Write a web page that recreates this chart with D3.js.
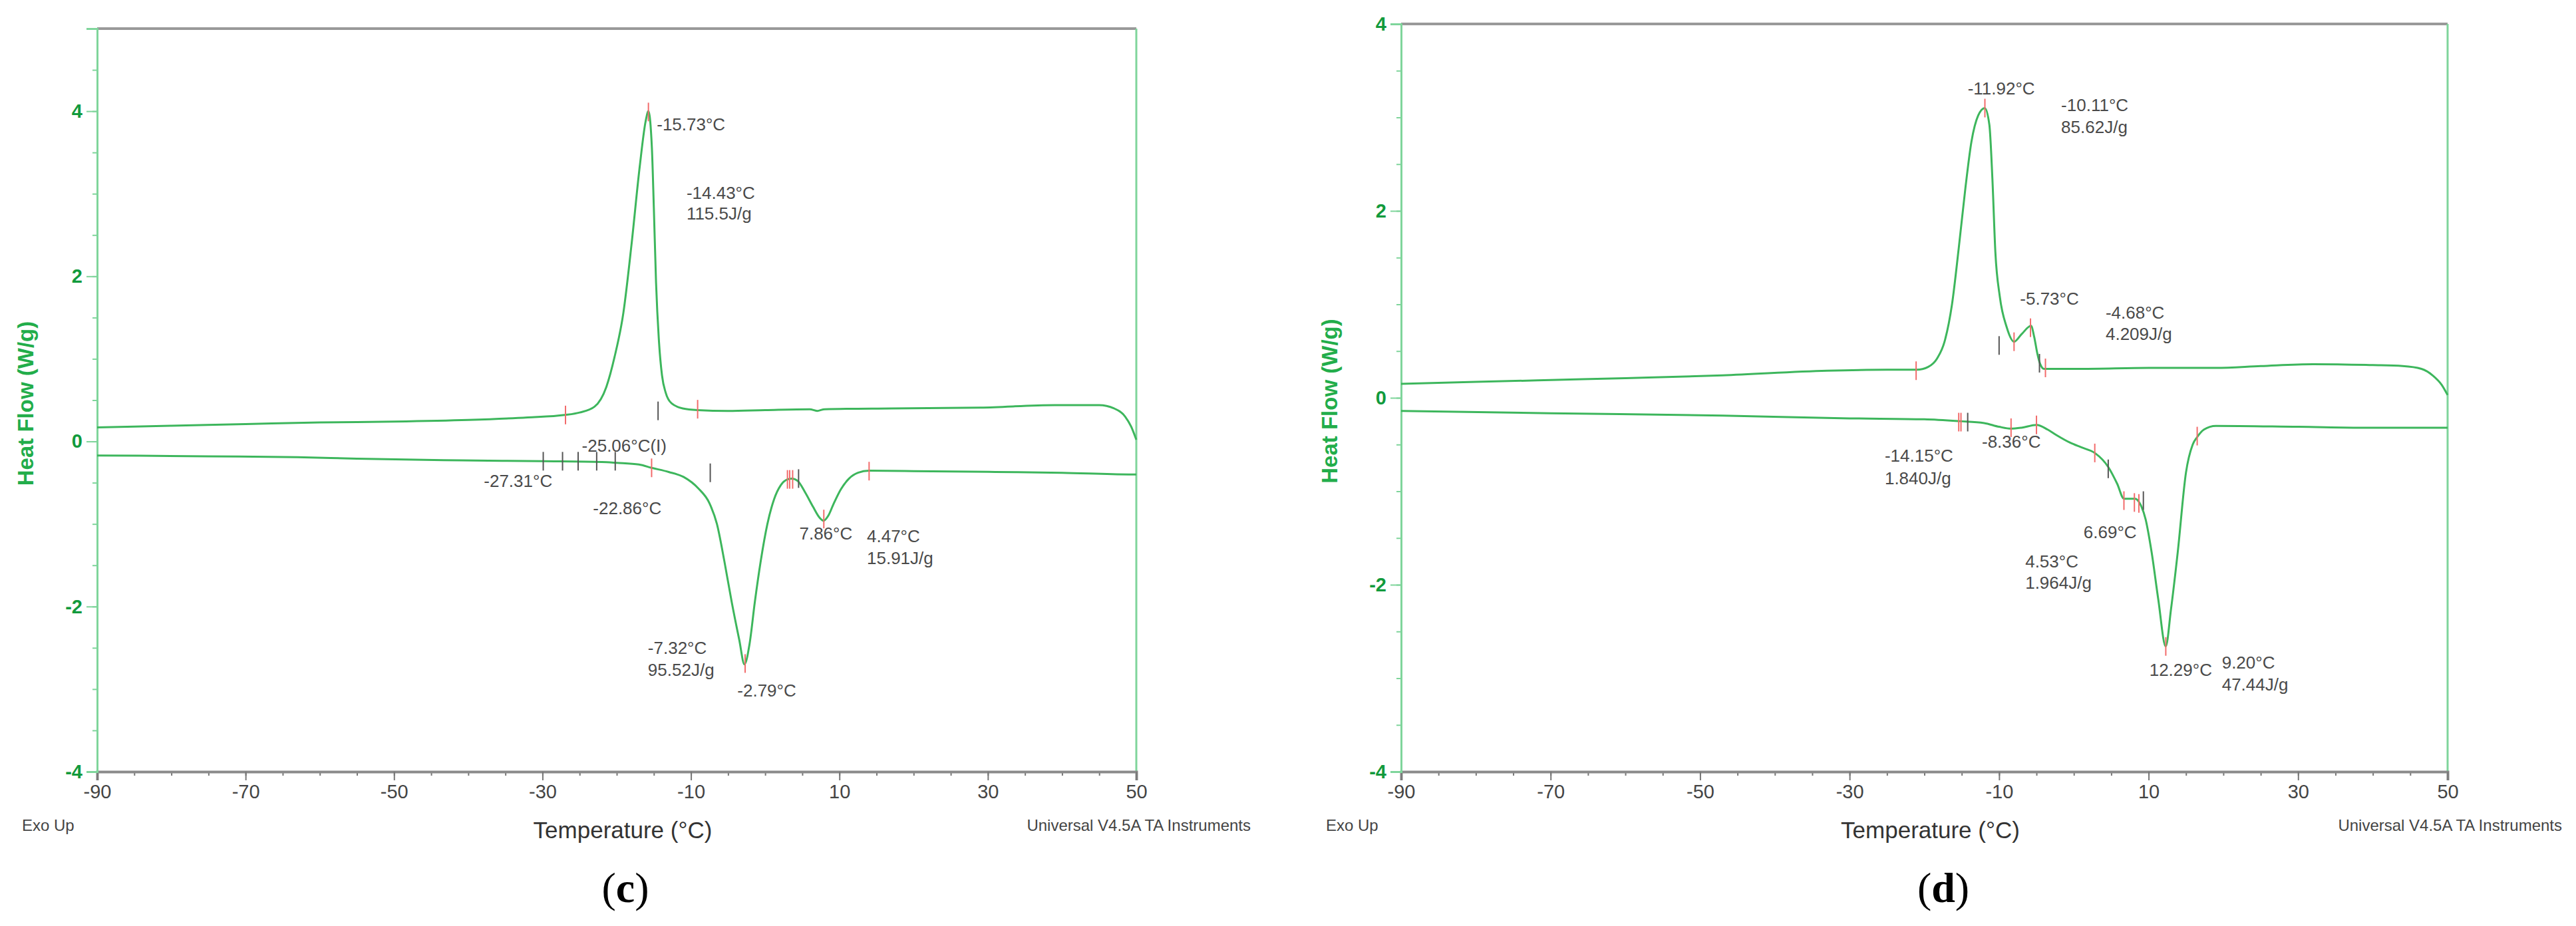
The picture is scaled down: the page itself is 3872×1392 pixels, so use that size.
<!DOCTYPE html>
<html>
<head>
<meta charset="utf-8">
<script src="https://cdn.jsdelivr.net/npm/d3@7"></script>
<style>
  body { margin: 0; background: #fff; }
  svg { display: block; font-family: "Liberation Sans", Arial, sans-serif; }
</style>
</head>
<body>
<div id="chart"></div>
<script>
// ---- data ----
// panel (c): cooling trace (upper) and heating trace (lower), [temperature °C, heat flow W/g]
const cCooling = [[-90,0.17],[-80,0.19],[-70,0.21],[-60,0.23],[-50,0.24],[-40,0.26],[-32,0.29],[-27,0.32],[-25,0.35],
  [-23,0.42],[-21.4,0.66],[-20.3,1.02],[-19.1,1.56],[-18,2.39],[-16.9,3.33],[-16.1,3.88],[-15.73,4.0],[-15.26,3.55],
  [-15,2.83],[-14.7,1.92],[-14.3,1.2],[-13.9,0.8],[-13.4,0.59],[-12.6,0.46],[-11.1,0.4],[-9.1,0.38],[-5,0.37],[0,0.38],
  [6,0.39],[7,0.37],[8,0.39],[17,0.4],[29,0.41],[39,0.44],[45,0.44],[47,0.4],[48.5,0.3],[49.3,0.18],[50,0.02]];
const cHeating = [[-90,-0.17],[-75,-0.18],[-63,-0.19],[-55,-0.21],[-41,-0.23],[-30,-0.24],[-22,-0.25],[-20,-0.26],
  [-17,-0.28],[-15.3,-0.32],[-13,-0.37],[-11,-0.43],[-9,-0.57],[-7.5,-0.75],[-6.5,-1.0],[-5.5,-1.45],[-4.5,-1.95],
  [-3.5,-2.4],[-2.79,-2.7],[-2.1,-2.45],[-1.4,-1.95],[-0.6,-1.45],[0.3,-1.0],[1.2,-0.7],[2.1,-0.53],[3,-0.46],
  [3.6,-0.45],[4.4,-0.48],[5.4,-0.62],[6.5,-0.8],[7.3,-0.92],[7.86,-0.96],[8.5,-0.9],[9.2,-0.76],[10.2,-0.58],
  [11.3,-0.45],[12.5,-0.38],[14,-0.355],[20,-0.36],[31,-0.37],[40,-0.38],[49,-0.4],[50,-0.4]];

// panel (d)
const dCooling = [[-90,0.15],[-80,0.17],[-70,0.19],[-60,0.21],[-47,0.24],[-33,0.29],[-25,0.3],[-21,0.3],[-19.5,0.33],
  [-18.3,0.42],[-17.3,0.6],[-16.3,1.0],[-15.4,1.6],[-14.5,2.25],[-13.7,2.74],[-12.8,3.02],[-11.92,3.1],[-11.3,2.92],
  [-10.9,2.35],[-10.5,1.56],[-9.9,1.08],[-9,0.76],[-8,0.6],[-7,0.68],[-5.73,0.77],[-5.3,0.65],[-4.9,0.48],[-4.5,0.36],
  [-4,0.31],[-2,0.31],[1,0.31],[10,0.32],[19,0.32],[25,0.34],[32,0.36],[40,0.35],[44,0.34],[46.5,0.31],[48,0.24],
  [49.2,0.14],[50,0.03]];
const dHeating = [[-90,-0.14],[-70,-0.165],[-47,-0.19],[-30,-0.22],[-20,-0.23],[-15.3,-0.25],[-12,-0.27],[-10,-0.31],
  [-8.4,-0.33],[-7,-0.32],[-5,-0.29],[-3.5,-0.34],[-2.3,-0.4],[-0.5,-0.48],[1,-0.53],[2.8,-0.59],[4.6,-0.74],
  [5.8,-0.92],[6.7,-1.08],[7.5,-1.08],[8.2,-1.08],[8.9,-1.14],[9.6,-1.3],[10.4,-1.65],[11.3,-2.16],[12.29,-2.66],
  [13,-2.26],[13.9,-1.65],[15,-0.8],[15.9,-0.5],[16.5,-0.42],[17.4,-0.34],[19,-0.3],[30,-0.31],[40,-0.32],[50,-0.32]];

// analysis markers: [temperature, heat flow, kind] (r = red, k = dark)
const cMarks = [[-26.9,0.32,"r"],[-15.73,3.99,"r"],[-14.43,0.37,"k"],[-9.1,0.39,"r"],
  [-29.9,-0.24,"k"],[-27.3,-0.24,"k"],[-25.2,-0.24,"k"],[-22.7,-0.24,"k"],[-20.2,-0.24,"k"],
  [-15.3,-0.32,"r"],[-7.4,-0.38,"k"],[3.0,-0.46,"r"],[3.3,-0.46,"r"],[3.7,-0.46,"r"],[4.5,-0.45,"k"],
  [7.9,-0.94,"r"],[14.0,-0.36,"r"],[-2.7,-2.69,"r"]];
const dMarks = [[-21.1,0.29,"r"],[-11.9,3.1,"r"],[-10,0.56,"k"],[-8,0.6,"r"],[-5.8,0.75,"r"],[-4.6,0.37,"k"],
  [-3.8,0.32,"r"],[-15.4,-0.26,"r"],[-15.1,-0.26,"r"],[-14.2,-0.26,"k"],[-8.4,-0.32,"r"],[-5,-0.29,"r"],
  [2.8,-0.59,"r"],[4.6,-0.76,"k"],[6.7,-1.1,"r"],[8.1,-1.12,"r"],[8.7,-1.13,"r"],[9.3,-1.1,"k"],
  [12.3,-2.66,"r"],[16.5,-0.41,"r"]];

// annotation labels: [text, temperature, heat flow]
const cLabels = [["-15.73°C",-14.6,3.84],["-14.43°C",-10.6,3.01],["115.5J/g",-10.6,2.76],["-25.06°C(I)",-24.7,-0.05],
  ["-27.31°C",-37.9,-0.48],["-22.86°C",-23.2,-0.81],["7.86°C",4.6,-1.115],["4.47°C",13.7,-1.15],["15.91J/g",13.7,-1.41],
  ["-7.32°C",-15.8,-2.5],["95.52J/g",-15.8,-2.77],["-2.79°C",-3.75,-3.02]];
const dLabels = [["-11.92°C",-14.2,3.31],["-10.11°C",-1.7,3.13],["85.62J/g",-1.7,2.9],["-5.73°C",-7.2,1.06],
  ["-4.68°C",4.25,0.91],["4.209J/g",4.25,0.68],["-14.15°C",-25.3,-0.62],["1.840J/g",-25.3,-0.86],
  ["-8.36°C",-12.3,-0.47],["6.69°C",1.3,-1.44],["4.53°C",-6.5,-1.75],["1.964J/g",-6.5,-1.98],
  ["12.29°C",10.1,-2.91],["9.20°C",19.8,-2.83],["47.44J/g",19.8,-3.07]];

const xTicks = [-90, -70, -50, -30, -10, 10, 30, 50];
const cYTicks = [-4, -2, 0, 2, 4];
const dYTicks = [-4, -2, 0, 2, 4];

// ---- drawing ----
const W = 3872, H = 1392;
const svg = d3.select("#chart").append("svg").attr("width", W).attr("height", H);

const curveColor = "#3db65c", axisGreen = "#7fd59b", labelGreen = "#119a3c";

function drawPanel(p) {
    const g = svg.append("g");
    const x = d3.scaleLinear().domain([-90, 50]).range([p.left, p.right]);
    const y = d3.scaleLinear().domain(p.yDomain).range([p.bottom, p.top]);

    // top border
    g.append("line").attr("x1", p.left).attr("x2", p.right).attr("y1", p.top).attr("y2", p.top)
        .attr("stroke", "#999").attr("stroke-width", 4);
    // right border
    g.append("line").attr("x1", p.right).attr("x2", p.right).attr("y1", p.top).attr("y2", p.bottom)
        .attr("stroke", axisGreen).attr("stroke-width", 3);

    // x axis (minor + major)
    const xMinor = g.append("g").attr("transform", `translate(0,${p.bottom})`)
        .call(d3.axisBottom(x).tickValues(d3.range(-90, 51, 5)).tickSize(6).tickFormat(""));
    xMinor.select(".domain").remove();
    xMinor.selectAll("line").attr("stroke", "#777").attr("stroke-width", 2);

    const xMajor = g.append("g").attr("transform", `translate(0,${p.bottom})`)
        .call(d3.axisBottom(x).tickValues(xTicks).tickSize(13).tickPadding(6).tickFormat(d => String(d)));
    xMajor.select(".domain").attr("stroke", "#8a8a8a").attr("stroke-width", 4);
    xMajor.selectAll("line").attr("stroke", "#777").attr("stroke-width", 2);
    xMajor.selectAll("text").attr("font-size", 29).attr("fill", "#444")
        .style("font-family", "'Liberation Sans', Arial, sans-serif");

    // y axis (minor + major)
    const yMinor = g.append("g").attr("transform", `translate(${p.left},0)`)
        .call(d3.axisLeft(y).tickValues(d3.range(p.yDomain[0], p.yDomain[1] + 0.01, 0.5)).tickSize(7).tickFormat(""));
    yMinor.select(".domain").remove();
    yMinor.selectAll("line").attr("stroke", axisGreen).attr("stroke-width", 2);

    const yMajor = g.append("g").attr("transform", `translate(${p.left},0)`)
        .call(d3.axisLeft(y).tickValues(p.yTicks).tickSize(16).tickPadding(6).tickFormat(d => String(d)));
    yMajor.select(".domain").attr("stroke", axisGreen).attr("stroke-width", 3);
    yMajor.selectAll("line").attr("stroke", axisGreen).attr("stroke-width", 2);
    yMajor.selectAll("text").attr("font-size", 29).attr("font-weight", "bold").attr("fill", labelGreen)
        .style("font-family", "'Liberation Sans', Arial, sans-serif");

    // traces
    const line = d3.line().x(d => x(d[0])).y(d => y(d[1])).curve(d3.curveMonotoneX);
    [p.cooling, p.heating].forEach(series => {
        g.append("path").datum(series).attr("d", line)
            .attr("fill", "none").attr("stroke", curveColor).attr("stroke-width", 3);
    });

    // analysis markers
    g.selectAll(".mark").data(p.marks).enter().append("line")
        .attr("x1", d => x(d[0])).attr("x2", d => x(d[0]))
        .attr("y1", d => y(d[1]) - 14).attr("y2", d => y(d[1]) + 14)
        .attr("stroke", d => d[2] === "r" ? "#f26b6b" : "#555")
        .attr("stroke-width", 2);

    // annotations
    g.selectAll(".ann").data(p.labels).enter().append("text")
        .attr("x", d => x(d[1])).attr("y", d => y(d[2]))
        .attr("dominant-baseline", "central")
        .attr("font-size", 26).attr("fill", "#4a4a4a")
        .text(d => d[0]);

    // axis titles and footer texts
    g.append("text")
        .attr("transform", `translate(${p.left - 108},${(p.top + p.bottom) / 2 + 5}) rotate(-90)`)
        .attr("text-anchor", "middle").attr("dominant-baseline", "central")
        .attr("font-size", 33).attr("font-weight", "bold").attr("fill", "#22ad4a")
        .text("Heat Flow (W/g)");

    g.append("text")
        .attr("x", (p.left + p.right) / 2 + 9).attr("y", p.bottom + 87)
        .attr("text-anchor", "middle").attr("dominant-baseline", "central")
        .attr("font-size", 35).attr("fill", "#333")
        .text("Temperature (°C)");

    g.append("text")
        .attr("x", p.left - 113).attr("y", p.bottom + 80)
        .attr("dominant-baseline", "central")
        .attr("font-size", 24).attr("fill", "#444")
        .text("Exo Up");

    g.append("text")
        .attr("x", p.right + 172).attr("y", p.bottom + 80)
        .attr("text-anchor", "end").attr("dominant-baseline", "central")
        .attr("font-size", 24).attr("fill", "#444")
        .text("Universal V4.5A TA Instruments");

    const tag = g.append("text")
        .attr("x", p.tagX).attr("y", p.bottom + 174)
        .attr("text-anchor", "middle").attr("dominant-baseline", "central")
        .style("font-family", "'Liberation Serif', 'Times New Roman', serif")
        .attr("font-size", 64).attr("fill", "#000");
    tag.append("tspan").text("(");
    tag.append("tspan").attr("font-weight", "bold").text(p.tag);
    tag.append("tspan").text(")");
}

drawPanel({
    left: 146, right: 1708, top: 43, bottom: 1160, yDomain: [-4, 5], yTicks: cYTicks,
    cooling: cCooling, heating: cHeating, marks: cMarks, labels: cLabels, tag: "c", tagX: 940
});

drawPanel({
    left: 2106, right: 3679, top: 36, bottom: 1160, yDomain: [-4, 4], yTicks: dYTicks,
    cooling: dCooling, heating: dHeating, marks: dMarks, labels: dLabels, tag: "d", tagX: 2921
});
</script>
</body>
</html>
